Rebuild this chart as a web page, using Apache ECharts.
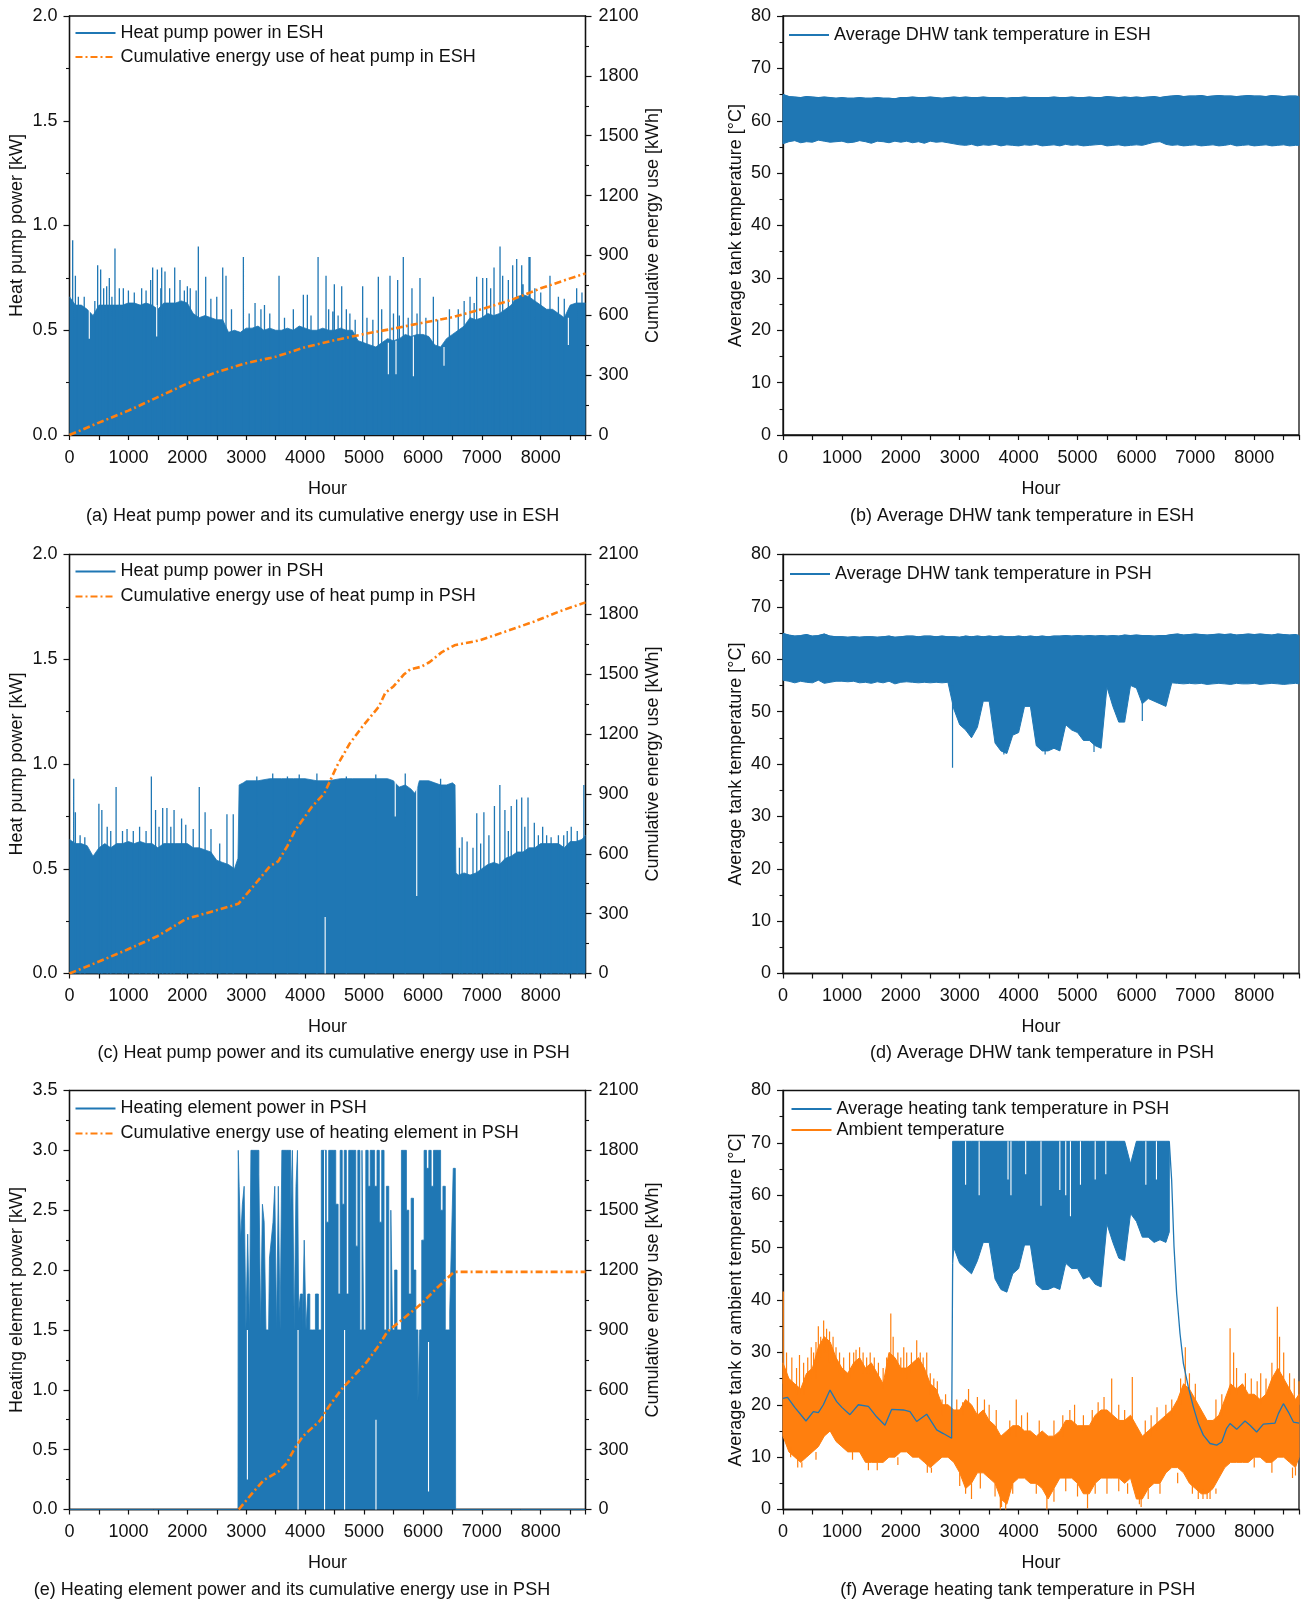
<!DOCTYPE html>
<html><head><meta charset="utf-8">
<script src="https://cdn.jsdelivr.net/npm/echarts@6/dist/echarts.min.js"></script>
<style>html,body{margin:0;padding:0;background:#fff}#c{width:1304px;height:1601px}</style>
</head><body><div id="c"></div>
<script>
// ---------------- DATA ----------------
const hours100 = [0,100,200,300,400,500,600,700,800,900,
1000,1100,1200,1300,1400,1500,1600,1700,1800,1900,
2000,2100,2200,2300,2400,2500,2600,2700,2800,2900,
3000,3100,3200,3300,3400,3500,3600,3700,3800,3900,
4000,4100,4200,4300,4400,4500,4600,4700,4800,4900,
5000,5100,5200,5300,5400,5500,5600,5700,5800,5900,
6000,6100,6200,6300,6400,6500,6600,6700,6800,6900,
7000,7100,7200,7300,7400,7500,7600,7700,7800,7900,
8000,8100,8200,8300,8400,8500,8600,8700,8760];

// (a) heat pump power ESH: dense body top [kW] and individual peaks [hour, kW]
const hpEshBody = [0.66,0.62,0.62,0.60,0.57,0.62,0.62,0.62,0.62,0.62,
0.63,0.63,0.62,0.63,0.62,0.60,0.63,0.63,0.63,0.64,
0.63,0.58,0.56,0.57,0.56,0.55,0.55,0.49,0.50,0.49,
0.51,0.51,0.52,0.50,0.51,0.50,0.50,0.51,0.50,0.52,
0.51,0.50,0.50,0.51,0.50,0.50,0.51,0.50,0.50,0.45,
0.44,0.43,0.42,0.44,0.46,0.45,0.46,0.48,0.47,0.48,
0.48,0.47,0.43,0.42,0.46,0.48,0.50,0.52,0.56,0.55,
0.56,0.58,0.57,0.58,0.60,0.62,0.66,0.67,0.66,0.64,
0.62,0.60,0.60,0.58,0.56,0.62,0.63,0.63,0.63];
const hpEshPeaks = [[54,0.93],[100,0.76],[150,0.66],[250,0.66],[430,0.64],[478,0.81],[529,0.79],[580,0.70],[631,0.71],[676,0.75],[720,0.66],[772,0.89],[846,0.70],[914,0.70],[1000,0.69],[1100,0.68],[1225,0.70],[1300,0.69],[1378,0.74],[1412,0.80],[1491,0.79],[1550,0.70],[1565,0.80],[1621,0.78],[1700,0.70],[1786,0.80],[1876,0.74],[1950,0.69],[2001,0.71],[2050,0.70],[2150,0.69],[2187,0.90],[2312,0.755],[2400,0.65],[2500,0.66],[2601,0.80],[2657,0.76],[2750,0.60],[2952,0.85],[3050,0.58],[3150,0.63],[3250,0.60],[3310,0.62],[3400,0.58],[3557,0.76],[3650,0.56],[3800,0.60],[3970,0.67],[4038,0.67],[4100,0.57],[4220,0.85],[4355,0.76],[4400,0.60],[4470,0.59],[4496,0.72],[4560,0.57],[4621,0.71],[4700,0.60],[4760,0.58],[4850,0.55],[4977,0.71],[5050,0.56],[5150,0.55],[5243,0.755],[5300,0.60],[5441,0.76],[5500,0.58],[5571,0.74],[5600,0.57],[5667,0.85],[5750,0.56],[5814,0.70],[5900,0.58],[5950,0.75],[6050,0.56],[6177,0.66],[6250,0.55],[6450,0.60],[6600,0.60],[6700,0.64],[6800,0.66],[6870,0.63],[6912,0.755],[7015,0.75],[7082,0.75],[7150,0.70],[7207,0.80],[7309,0.90],[7354,0.76],[7450,0.74],[7524,0.81],[7592,0.84],[7677,0.81],[7700,0.72],[7801,0.85],[7818,0.85],[7900,0.70],[8000,0.68],[8157,0.76],[8300,0.66],[8400,0.65],[8610,0.70],[8700,0.68]];
const hpEshGaps = [[336,0.46,0.6],[1480,0.47,0.62],[5413,0.29,0.44],[5543,0.29,0.45],[5838,0.28,0.47],[6358,0.33,0.42],[8469,0.43,0.56]];
const cumEshHours = [0,500,1000,1500,2000,2500,3000,3500,4000,4500,5000,5500,6000,6500,7000,7500,8000,8500,8760];
const cumEshKwh   = [0,62,122,190,258,315,360,392,440,475,506,533,563,590,631,677,735,785,810];

// (b) DHW tank temperature ESH: band upper / lower [°C]
const dhwEshUpper = [65.0,64.6,64.5,64.4,64.6,64.5,64.4,64.5,64.4,64.3,
64.4,64.3,64.3,64.4,64.3,64.3,64.4,64.3,64.3,64.2,
64.4,64.4,64.5,64.4,64.4,64.5,64.4,64.3,64.4,64.5,
64.4,64.5,64.4,64.4,64.5,64.4,64.4,64.4,64.3,64.4,
64.4,64.5,64.4,64.4,64.4,64.4,64.5,64.4,64.4,64.5,
64.4,64.4,64.5,64.4,64.4,64.6,64.5,64.4,64.5,64.4,
64.5,64.4,64.5,64.6,64.4,64.6,64.7,64.8,64.6,64.7,
64.7,64.8,64.6,64.7,64.8,64.7,64.7,64.6,64.7,64.8,
64.7,64.7,64.6,64.8,64.7,64.6,64.7,64.7,64.6];
const dhwEshLower = [55.6,56.0,56.2,55.8,56.0,55.9,56.3,56.1,55.9,56.0,
56.1,55.8,55.9,56.2,56.0,55.7,56.1,56.0,55.8,56.1,
55.9,56.1,55.8,56.0,55.7,56.1,55.9,56.0,55.8,55.6,
55.4,55.3,55.5,55.2,55.4,55.3,55.5,55.2,55.4,55.3,
55.2,55.4,55.3,55.5,55.2,55.3,55.4,55.2,55.5,55.3,
55.4,55.2,55.3,55.4,55.5,55.2,55.3,55.4,55.2,55.3,
55.4,55.3,55.6,55.9,56.0,55.5,55.3,55.4,55.2,55.3,
55.4,55.2,55.3,55.4,55.2,55.3,55.5,55.2,55.3,55.4,
55.2,55.3,55.4,55.2,55.3,55.4,55.2,55.3,55.3];

// (c) heat pump power PSH [hour, kW]
const hpPshBody = [[0,0.64],[100,0.62],[200,0.62],[300,0.61],[400,0.56],[500,0.60],[600,0.62],[700,0.60],[800,0.62],[900,0.62],[1000,0.63],[1100,0.62],[1200,0.63],[1300,0.62],[1400,0.62],[1500,0.60],[1600,0.62],[1700,0.62],[1800,0.62],[1900,0.62],[2000,0.62],[2100,0.60],[2200,0.60],[2300,0.59],[2400,0.58],[2500,0.54],[2600,0.53],[2700,0.52],[2800,0.50],[2860,0.55],[2880,0.90],[2950,0.91],[3000,0.92],[3200,0.92],[3400,0.93],[3600,0.93],[3800,0.93],[4000,0.93],[4200,0.92],[4400,0.92],[4600,0.93],[4800,0.93],[5000,0.93],[5200,0.93],[5400,0.93],[5500,0.92],[5560,0.90],[5600,0.89],[5700,0.90],[5800,0.88],[5860,0.86],[5900,0.88],[5940,0.92],[6000,0.92],[6100,0.92],[6200,0.91],[6300,0.90],[6400,0.90],[6500,0.91],[6545,0.90],[6560,0.48],[6600,0.47],[6700,0.48],[6800,0.47],[6900,0.48],[7000,0.50],[7100,0.52],[7200,0.53],[7300,0.52],[7400,0.55],[7500,0.56],[7600,0.58],[7700,0.58],[7800,0.60],[7900,0.60],[8000,0.62],[8100,0.62],[8200,0.62],[8300,0.62],[8400,0.60],[8500,0.63],[8600,0.63],[8700,0.64],[8760,0.66]];
const hpPshPeaks = [[71,0.93],[100,0.77],[180,0.66],[260,0.65],[499,0.81],[549,0.78],[640,0.70],[700,0.68],[791,0.89],[900,0.68],[977,0.69],[1083,0.68],[1190,0.70],[1300,0.68],[1390,0.94],[1461,0.78],[1520,0.70],[1582,0.79],[1654,0.79],[1720,0.70],[1775,0.78],[1903,0.74],[1974,0.71],[2100,0.69],[2203,0.89],[2302,0.77],[2402,0.69],[2550,0.62],[2673,0.76],[2780,0.76],[3180,0.94],[3450,0.955],[3700,0.94],[3900,0.95],[4200,0.955],[4700,0.94],[5200,0.95],[5700,0.955],[6300,0.93],[6620,0.60],[6665,0.65],[6750,0.63],[6850,0.60],[6914,0.765],[6980,0.62],[7035,0.77],[7120,0.66],[7214,0.80],[7306,0.90],[7392,0.78],[7450,0.68],[7499,0.80],[7591,0.83],[7677,0.84],[7730,0.70],[7784,0.84],[7891,0.72],[7960,0.66],[8033,0.70],[8100,0.66],[8176,0.65],[8300,0.66],[8390,0.66],[8450,0.68],[8518,0.70],[8620,0.68],[8732,0.90]];
const hpPshGaps = [[4340,0,0.27],[5530,0.75,0.93],[5895,0.37,0.9]];
const cumPsh = [[0,0],[500,60],[976,119],[1500,188],[1975,273],[2473,315],[2865,349],[3115,435],[3400,537],[3543,562],[3700,640],[3828,716],[4113,835],[4327,903],[4540,1040],[4754,1151],[4968,1236],[5111,1287],[5253,1338],[5360,1406],[5503,1440],[5681,1500],[5788,1525],[5966,1537],[6109,1560],[6323,1611],[6536,1645],[6964,1670],[7392,1713],[7891,1764],[8319,1815],[8760,1860]];

// (d) DHW tank temperature PSH: band upper / lower [°C]
const dhwPshUpper = [64.9,64.6,64.4,64.5,64.7,64.4,64.5,64.8,64.4,64.3,
64.3,64.2,64.3,64.2,64.3,64.3,64.2,64.3,64.4,64.2,
64.3,64.4,64.4,64.3,64.4,64.4,64.3,64.4,64.3,64.3,
64.2,64.4,64.3,64.4,64.3,64.4,64.3,64.4,64.3,64.3,
64.4,64.3,64.4,64.3,64.4,64.3,64.4,64.4,64.5,64.4,
64.5,64.4,64.5,64.4,64.5,64.4,64.5,64.4,64.6,64.5,
64.6,64.5,64.5,64.4,64.5,64.5,64.7,64.8,64.6,64.7,
64.8,64.7,64.6,64.7,64.8,64.7,64.8,64.6,64.7,64.8,
64.7,64.8,64.7,64.6,64.8,64.7,64.6,64.7,64.5];
const dhwPshLower = [56.0,55.8,55.5,55.8,55.6,55.5,56.0,55.4,55.6,55.8,
55.8,55.7,55.8,55.5,55.6,55.4,55.7,55.5,55.8,55.3,
55.6,55.7,55.6,55.5,55.6,55.5,55.6,55.5,55.6,50.5,
47.5,46.5,45.0,47.0,52.0,52.0,44.0,42.5,42.0,45.5,
46.0,51.0,51.0,43.5,42.5,42.5,43.0,42.5,47.5,46.5,
46.0,44.5,44.5,43.5,43.0,54.7,51.0,48.0,48.0,55.0,
54.5,51.5,52.5,52.0,51.5,51.0,55.5,55.4,55.3,55.4,
55.3,55.4,55.2,55.3,55.4,55.3,55.2,55.4,55.3,55.3,
55.4,55.2,55.3,55.4,55.3,55.2,55.3,55.4,55.3];
const dhwPshDips = [[2878,55,39.3],[6100,52,48.2],[3750,44,41.8],[4450,43,41.8],[5280,44,42.3]];

// (e) heating element power PSH [hour, kW]
const hePower = [[0,0],[2860,0],[2870,3.0],[2890,2.7],[2920,2.25],[2950,2.55],[2980,2.7],[3010,1.5],[3040,2.3],[3070,1.5],[3090,3.0],[3130,3.0],[3160,3.0],[3200,3.0],[3230,2.8],[3260,1.5],[3290,2.55],[3320,2.4],[3350,1.5],[3380,1.5],[3410,2.1],[3440,2.25],[3470,2.4],[3500,2.7],[3530,1.5],[3560,2.7],[3590,1.5],[3620,3.0],[3660,3.0],[3700,3.0],[3740,3.0],[3770,2.5],[3800,3.0],[3830,1.5],[3860,2.7],[3880,3.0],[3900,1.65],[3940,1.8],[3970,1.5],[4000,2.25],[4030,1.5],[4060,1.8],[4100,1.5],[4150,1.5],[4200,1.8],[4250,1.5],[4300,3.0],[4340,3.0],[4380,2.4],[4420,3.0],[4460,3.0],[4500,3.0],[4540,2.55],[4580,1.8],[4610,3.0],[4650,2.55],[4680,3.0],[4720,1.8],[4760,3.0],[4800,3.0],[4840,3.0],[4880,2.2],[4910,3.0],[4950,1.5],[4980,3.0],[5010,1.5],[5050,3.0],[5090,2.7],[5120,3.0],[5160,3.0],[5200,2.7],[5240,3.0],[5280,2.4],[5320,3.0],[5360,1.5],[5400,2.7],[5440,1.5],[5470,2.5],[5500,1.5],[5540,2.0],[5580,1.5],[5620,1.5],[5650,3.0],[5700,3.0],[5740,2.5],[5780,1.8],[5820,2.6],[5860,2.0],[5900,1.5],[5930,0.9],[5960,1.5],[6000,2.25],[6040,3.0],[6080,2.85],[6120,3.0],[6160,2.7],[6200,3.0],[6240,3.0],[6280,3.0],[6320,2.5],[6360,2.7],[6400,1.5],[6440,1.5],[6470,1.65],[6500,2.25],[6530,2.85],[6550,2.85],[6560,0],[8760,0]];
const heGaps = [[3020,0.25,1.5],[3880,0,1.5],[4330,0,3.0],[4670,0,1.5],[5203,0,0.75],[6095,0.15,1.4]];
const cumHe = [[2873,0],[3115,86],[3293,146],[3543,189],[3685,231],[3828,309],[3970,369],[4255,446],[4398,514],[4612,600],[4826,669],[5040,737],[5253,823],[5396,891],[5681,960],[5966,1029],[6251,1114],[6500,1183],[6536,1191],[8760,1191]];

// (f) heating tank temperature PSH and ambient temperature [°C]
const tankHoursA = [0,77,200,390,515,600,685,798,911,1000,1137,1279,1449,1590,1731,1844,2043,2156,2269,2439,2609,2722,2863,2878,2880];
const tankTempA  = [21.2,21.4,19.5,16.9,18.7,18.5,20.0,22.8,20.6,19.5,18.1,20.0,19.7,17.7,16.1,19.1,19.0,18.7,16.8,18.2,15.2,14.5,13.6,13.4,47];
const tankHoursB = [6558,6598,6638,6683,6740,6797,6881,6966,7051,7136,7250,7363,7448,7532,7589,7702,7843,7928,8041,8155,8353,8410,8495,8580,8665,8760];
const tankTempB  = [70.2,62.9,50.2,41.2,33.6,27.9,23.4,19.6,16.4,14.2,12.6,12.3,12.9,15.5,16.4,15.3,16.9,16.1,14.8,16.3,16.5,18.3,20.2,18.6,16.7,16.5];
const tankBandHours = [2880,2900,3000,3100,3200,3300,3400,3500,3600,3700,3800,3900,4000,4100,4200,4300,4400,4500,4600,4700,4800,4900,5000,5100,5200,5300,5400,5500,5600,5700,5800,5900,6000,6100,6200,6300,6400,6500,6558];
const tankBandLower = [47,50,47,46,45,47.5,51,51,44,42,41.5,45,46,50.5,50.5,43,42,42,42.5,42,47,46,46,44,44.5,43,42.5,54.5,51,48,47.5,56.5,55,52,52,51,51.5,51,53];
const tankBandUpper = [70.3,70.3,70.3,70.3,70.3,70.3,70.3,70.3,70.3,70.3,70.3,70.3,70.3,70.3,70.3,70.3,70.3,70.3,70.3,70.3,70.3,70.3,70.3,70.3,70.3,70.3,70.3,70.3,70.3,70.3,70.3,66,70.3,70.3,70.3,70.3,70.3,70.3,70.3];
const tankBandNotches = [[3100,70.3,62],[3330,70.3,60],[3820,70.3,63],[3870,70.3,60],[4120,70.3,64],[4380,70.3,58],[4700,70.3,61],[4800,70.3,60],[4880,70.3,56],[5050,70.3,62],[5300,70.3,63],[5480,70.3,64],[6160,70.3,62],[6340,70.3,63]];
const ambHigh = [28,25,24,23,26,27,31,33,32,29,
27,26,28,29,27,28,26,24,30,29,
27,27,28,29,27,24,23,20,20,19,
19,21,20,18,19,17,16,14,15,16,
16,15,15,14,15,14,14,15,17,17,
16,16,16,18,19,19,18,17,17,18,
16,14,15,16,17,18,19,21,24,23,
21,19,17,17,18,21,24,23,24,22,
22,21,22,25,27,25,23,21,22];
const ambLow = [14,11,10,9,10,11,12,14,15,13,
12,11,11,11,9,9,9,9,10,10,
11,11,10,10,9,8,9,10,10,9,
7,4,5,7,7,6,5,2,1,5,
6,6,5,5,4,2,4,6,6,6,
5,3,3,5,6,6,6,6,5,6,
2,2,4,5,5,7,8,8,7,5,
4,3,3,4,6,8,9,9,9,9,
10,10,9,9,10,10,9,8,10];
// individual excursions beyond the dense band [hour, from, to]
const ambExtremes = [[5,24,41.6],[60,22,30],[150,24,29],[230,22,27],[280,22,29.5],[350,22,28],[420,24,29],[480,25,31],[520,26,30],[560,25,32],[600,28,35],[640,29,33],[690,30,36.1],[740,30,34.5],[790,28,34],[850,28,33],[900,27,31],[960,26,30],[1030,25,29],[1130,25,30],[1200,26,30],[1240,27,30.5],[1300,27,31],[1360,26,30],[1420,26,29],[1480,26,30],[1550,26,29],[1620,25,28],[1700,23,27],[1760,25,29],[1830,28,37.4],[1870,28,33],[1950,27,30],[2000,26,29],[2050,26,31],[2100,25,30],[2180,26,30],[2270,28,32.3],[2330,27,30],[2380,26,29],[2440,25,30],[2500,22,26],[2560,22,25],[2620,21,24.5],[2700,18,21],[2760,19,22],
[2950,18,21],[3050,18,20.5],[3150,19,23],[3300,18,21.5],[3420,18,21],[3500,16,20],[3620,15,19],[3850,14,17],[3960,14,21],[4050,15,18],[4150,15,18.5],[4350,14,17],[4600,14,17],[4750,14,18],[4870,16,19],[4950,16,20],[5100,15,18],[5250,16,19],[5350,17,20.5],[5450,18,21.5],[5580,18,25],[5700,16,20],[5800,16,19],[5930,17,25.3],[6150,14,17],[6250,14,18],[6350,15,19.5],[6500,17,20],[6600,18,21],
[6750,20,25],[6830,23,31],[6900,22,26],[7000,20,24],[7350,17,21],[7450,18,22],[7590,22,34.6],[7650,23,30],[7700,22,27],[7850,22,26],[7950,21,25],[8050,21,24.5],[8110,20,26],[8200,21,25],[8300,24,28],[8392,25,38.7],[8430,25,33],[8500,23,30],[8600,22,26],[8680,21,25],[8760,20,24.5],
[130,12,10],[250,10,8],[320,9,8],[560,11,9.5],[1180,11,9.5],[1450,9,7.5],[1600,9,7.5],[1950,10,8.5],[2450,9,7],[2520,8,7],
[3000,7,4.5],[3100,5,3],[3200,5,2],[3350,7,4],[3600,5,2.5],[3690,3,0],[3710,3,0.5],[3780,2,0],[3900,5,3],[4300,5,3],[4480,3,0],[4600,4,1.5],[4800,6,3.5],[5000,5,2.5],[5170,3,0.2],[5300,5,3],[5500,6,3],[5700,6,3.5],[5850,5,3],[6050,3,1],[6080,3,0.5],[6200,4,2],[6400,5,3],
[6700,7,5],[6950,5,3],[7050,4,2],[7130,4,2],[7200,3,2],[7250,4,2],[7350,4,3],[8000,10,8],[8300,9,7],[8650,8,6],[8700,8,6.5]];

const xMax = 8760;

// ---------------- STYLE / LAYOUT ----------------
const BLUE = '#1f77b4', ORANGE = '#ff7f0e', INK = '#111';
const FONT = '"Liberation Sans", Arial, Helvetica, sans-serif';
const FS = 18;
const COLX = [69.5, 783], ROWY = [16, 554.5, 1090.5], GW = 516, GH = 419;

function zip(h, v) { return h.map((x, i) => [x, v[i]]); }
function segs(list) {
  const out = [];
  list.forEach(s => {
    const from = s.length > 2 ? s[1] : 0;
    const to = s.length > 2 ? s[2] : s[1];
    out.push([s[0], from], [s[0], to], [s[0], NaN]);
  });
  return out;
}
function joinParts(a, b) { return a.concat([[a[a.length - 1][0], NaN]], b); }

const grids = [];
[0, 1, 2].forEach(r => [0, 1].forEach(c => grids.push({
  left: COLX[c], top: ROWY[r], width: GW, height: GH,
  show: true, borderColor: INK, borderWidth: 1.3, backgroundColor: 'transparent'
})));

const lineSt = { color: INK, width: 1.3 };
function xAx(gi) {
  return {
    gridIndex: gi, type: 'value', min: 0, max: xMax, interval: 500,
    axisLine: { show: true, onZero: false, lineStyle: lineSt },
    axisTick: { show: true, length: 5, lineStyle: { color: INK, width: 1.2 } },
    axisLabel: { fontSize: FS, color: INK, fontFamily: FONT, margin: 14,
      formatter: v => (v % 1000 === 0 && v <= 8000) ? String(v) : '' },
    splitLine: { show: false },
    name: 'Hour', nameLocation: 'middle', nameGap: 45,
    nameTextStyle: { fontSize: FS, color: INK, fontFamily: FONT }
  };
}
function yAx(gi, pos, max, interval, fmt) {
  return {
    gridIndex: gi, type: 'value', position: pos, min: 0, max: max, interval: interval,
    axisLine: { show: true, onZero: false, lineStyle: lineSt },
    axisTick: { show: true, length: 6, lineStyle: { color: INK, width: 1.2 } },
    minorTick: { show: true, splitNumber: 2, length: 3.5, lineStyle: { color: INK, width: 1.1 } },
    axisLabel: { fontSize: FS, color: INK, fontFamily: FONT, margin: pos === 'right' ? 13 : 12, formatter: fmt },
    splitLine: { show: false }, minorSplitLine: { show: false }
  };
}
const f1 = v => v.toFixed(1);
const f0 = v => String(v);

const yAxes = [
  yAx(0, 'left', 2.0, 0.5, f1),     // 0 a left
  yAx(0, 'right', 2100, 300, f0),   // 1 a right
  yAx(1, 'left', 80, 10, f0),       // 2 b
  yAx(2, 'left', 2.0, 0.5, f1),     // 3 c left
  yAx(2, 'right', 2100, 300, f0),   // 4 c right
  yAx(3, 'left', 80, 10, f0),       // 5 d
  yAx(4, 'left', 3.5, 0.5, f1),     // 6 e left
  yAx(4, 'right', 2100, 300, f0),   // 7 e right
  yAx(5, 'left', 80, 10, f0)        // 8 f
];

function area(name, xi, yi, data, color, step) {
  return { type: 'line', name, xAxisIndex: xi, yAxisIndex: yi, data, symbol: 'none', silent: true,
    step: step || false,
    lineStyle: { width: 0.8, color }, itemStyle: { color }, areaStyle: { color, opacity: 1 }, z: 2 };
}
function seg(name, xi, yi, list, color, w, z) {
  return { type: 'line', name, xAxisIndex: xi, yAxisIndex: yi, data: segs(list), symbol: 'none', silent: true,
    connectNulls: false, lineStyle: { width: w || 1.2, color }, itemStyle: { color }, z: z || 3 };
}
// filled band between a lower and an upper curve, drawn with the axes' own coordinate mapping
function band(xi, yi, hours, lo, hi, color) {
  return { type: 'custom', xAxisIndex: xi, yAxisIndex: yi, silent: true, z: 2,
    data: hours.map((h, i) => [h, lo[i], hi[i]]),
    encode: { x: 0, y: [1, 2] },
    renderItem: (params, api) => {
      if (params.dataIndexInside !== 0) return null;
      const n = params.dataInsideLength;
      const top = [], bot = [];
      for (let i = 0; i < n; i++) {
        const h = api.value(0, i);
        top.push(api.coord([h, api.value(2, i)]));
        bot.push(api.coord([h, api.value(1, i)]));
      }
      return { type: 'polygon', shape: { points: top.concat(bot.reverse()) },
        style: { fill: color, stroke: color, lineWidth: 1 } };
    }
  };
}
function edge(name, xi, yi, data, color) {
  return { type: 'line', name, xAxisIndex: xi, yAxisIndex: yi, data, symbol: 'none', silent: true,
    lineStyle: { width: 1.2, color }, itemStyle: { color }, z: 3 };
}
function cum(name, xi, yi, data) {
  return { type: 'line', name, xAxisIndex: xi, yAxisIndex: yi, data, symbol: 'none', silent: true,
    lineStyle: { width: 2.6, color: ORANGE, type: [7, 3, 2, 3] }, itemStyle: { color: ORANGE }, z: 5 };
}

const series = [
  // (a)
  area('a_body', 0, 0, zip(hours100, hpEshBody), BLUE),
  seg('Heat pump power in ESH', 0, 0, hpEshPeaks, BLUE, 1.3),
  seg('a_gap', 0, 0, hpEshGaps, '#ffffff', 1.1),
  cum('Cumulative energy use of heat pump in ESH', 0, 1, zip(cumEshHours, cumEshKwh)),
  // (b)
  band(1, 2, hours100, dhwEshLower, dhwEshUpper, BLUE),
  edge('Average DHW tank temperature in ESH', 1, 2, zip(hours100, dhwEshUpper), BLUE),
  // (c)
  area('c_body', 2, 3, hpPshBody, BLUE),
  seg('Heat pump power in PSH', 2, 3, hpPshPeaks, BLUE, 1.3),
  seg('c_gap', 2, 3, hpPshGaps, '#ffffff', 1.1),
  cum('Cumulative energy use of heat pump in PSH', 2, 4, cumPsh),
  // (d)
  band(3, 5, hours100, dhwPshLower, dhwPshUpper, BLUE),
  edge('Average DHW tank temperature in PSH', 3, 5, zip(hours100, dhwPshUpper), BLUE),
  seg('d_dip', 3, 5, dhwPshDips, BLUE, 1.2),
  // (e)
  area('Heating element power in PSH', 4, 6, hePower, BLUE, 'middle'),
  seg('e_gap', 4, 6, heGaps, '#ffffff', 1.1),
  cum('Cumulative energy use of heating element in PSH', 4, 7, cumHe),
  // (f)
  band(5, 8, tankBandHours, tankBandLower, tankBandUpper, BLUE),
  seg('f_notch', 5, 8, tankBandNotches, '#ffffff', 1.1, 3),
  band(5, 8, hours100, ambLow, ambHigh, ORANGE),
  seg('Ambient temperature', 5, 8, ambExtremes, ORANGE, 1.2),
  { type: 'line', name: 'Average heating tank temperature in PSH', xAxisIndex: 5, yAxisIndex: 8,
    data: joinParts(zip(tankHoursA, tankTempA), zip(tankHoursB, tankTempB)), symbol: 'none', silent: true,
    connectNulls: false, lineStyle: { width: 1.3, color: BLUE }, itemStyle: { color: BLUE }, z: 6 }
];

function legend(left, top, names, gap) {
  return { left, top, orient: 'vertical', padding: 0, itemWidth: 40, itemHeight: 12, itemGap: gap,
    selectedMode: false, itemStyle: { opacity: 0 },
    textStyle: { fontSize: FS, color: INK, fontFamily: FONT }, data: names };
}
const legends = [
  legend(74.5, 24, ['Heat pump power in ESH', 'Cumulative energy use of heat pump in ESH'], 6),
  legend(788, 26, ['Average DHW tank temperature in ESH'], 5),
  legend(74.5, 562.5, ['Heat pump power in PSH', 'Cumulative energy use of heat pump in PSH'], 7),
  legend(789, 565, ['Average DHW tank temperature in PSH'], 5),
  legend(74.5, 1099.5, ['Heating element power in PSH', 'Cumulative energy use of heating element in PSH'], 7),
  legend(790.5, 1100, ['Average heating tank temperature in PSH', 'Ambient temperature'], 3)
];

function txt(text, x, y, rot) {
  return { type: 'text', x, y, rotation: rot ? Math.PI / 2 : 0, silent: true, z: 10,
    style: { text, fill: INK, font: FS + 'px ' + FONT, align: 'center', verticalAlign: 'middle' } };
}
const graphics = [
  txt('Heat pump power [kW]', 17, 225.5, true),
  txt('Cumulative energy use [kWh]', 653, 225.5, true),
  txt('Average tank temperature [°C]', 736, 225.5, true),
  txt('Heat pump power [kW]', 17, 764, true),
  txt('Cumulative energy use [kWh]', 653, 764, true),
  txt('Average tank temperature [°C]', 736, 764, true),
  txt('Heating element power [kW]', 17, 1300, true),
  txt('Cumulative energy use [kWh]', 653, 1300, true),
  txt('Average tank or ambient temperature [°C]', 736, 1300, true),
  txt('(a) Heat pump power and its cumulative energy use in ESH', 322.7, 516),
  txt('(b) Average DHW tank temperature in ESH', 1022, 516),
  txt('(c) Heat pump power and its cumulative energy use in PSH', 333.6, 1053),
  txt('(d) Average DHW tank temperature in PSH', 1042, 1053),
  txt('(e) Heating element power and its cumulative energy use in PSH', 292, 1590.5),
  txt('(f) Average heating tank temperature in PSH', 1017.7, 1590.5)
];

const chart = echarts.init(document.getElementById('c'), null, { renderer: 'canvas' });
chart.setOption({
  animation: false,
  backgroundColor: '#ffffff',
  textStyle: { fontFamily: FONT },
  grid: grids,
  xAxis: [0, 1, 2, 3, 4, 5].map(xAx),
  yAxis: yAxes,
  legend: legends,
  graphic: graphics,
  series
});
</script>
</body></html>
